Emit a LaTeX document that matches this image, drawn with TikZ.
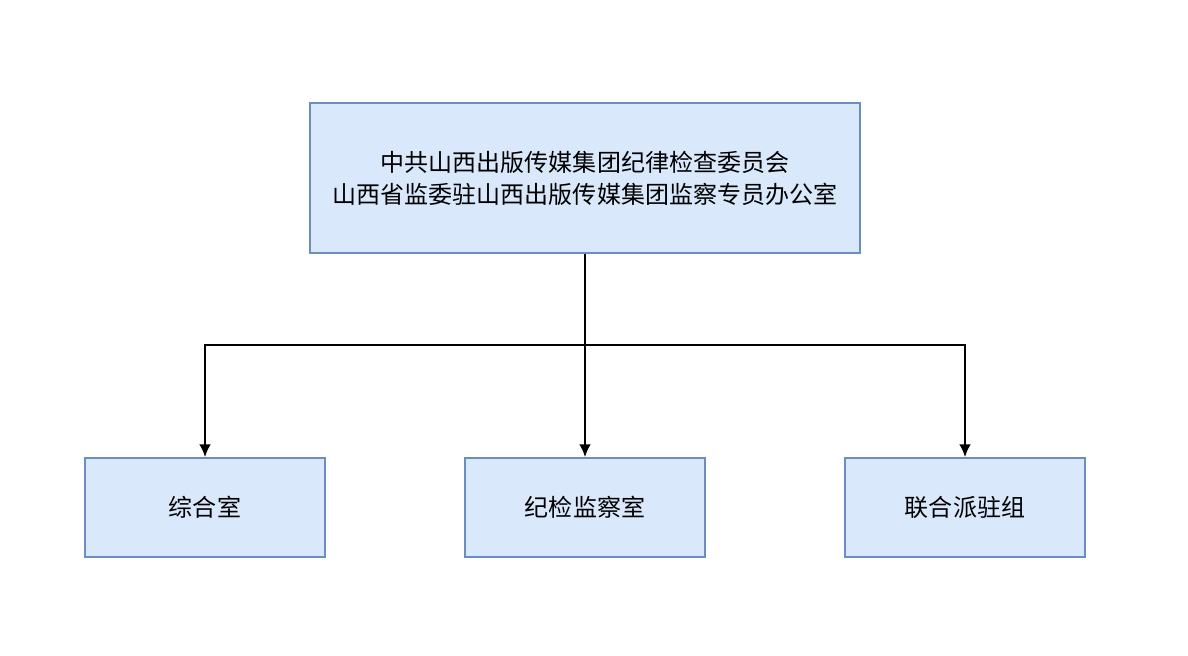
\documentclass[tikz,border=0pt]{standalone}
\usepackage{fontspec}
\newfontfamily\cjk{Noto Sans CJK SC}
\usetikzlibrary{arrows.meta}
\definecolor{boxfill}{HTML}{DAE8FC}
\definecolor{boxline}{HTML}{6C8EBF}
\begin{document}
\begin{tikzpicture}[
    x=0.03cm, y=-0.03cm,
    office/.style={rectangle, draw=boxline, fill=boxfill, line width=1.3pt, align=center, font=\cjk\fontsize{20.5}{27.5}\selectfont},
    link/.style={line width=1.9pt},
    arrow/.style={link, -{Latex[length=11pt,width=10pt]}},
]
\useasboundingbox (0,0) rectangle (1188,656);
\node[office, minimum width=16.5cm, minimum height=4.5cm] (cdi) at (585,178) {中共山西出版传媒集团纪律检查委员会\\山西省监委驻山西出版传媒集团监察专员办公室};
\node[office, minimum width=7.2cm, minimum height=2.97cm] (general) at (205,507.5) {综合室};
\node[office, minimum width=7.2cm, minimum height=2.97cm] (inspect) at (585,507.5) {纪检监察室};
\node[office, minimum width=7.2cm, minimum height=2.97cm] (joint) at (965,507.5) {联合派驻组};

\coordinate (split) at (585,345);
\draw[link] (cdi) -- (split);
\draw[arrow] (split) -| (general);
\draw[arrow] (split) -- (inspect);
\draw[arrow] (split) -| (joint);
\end{tikzpicture}
\end{document}
